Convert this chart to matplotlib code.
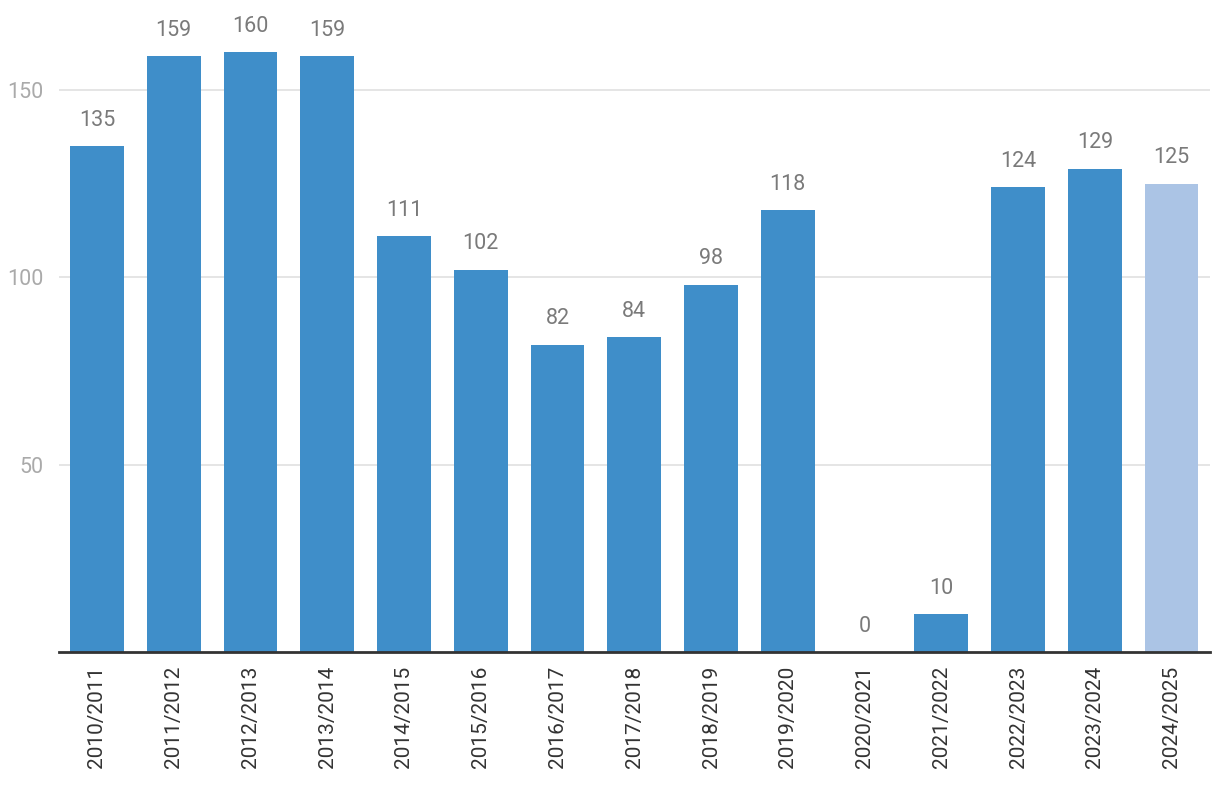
import matplotlib.pyplot as plt
import numpy as np

# data
seasons = ['2010/2011', '2011/2012', '2012/2013', '2013/2014', '2014/2015',
           '2015/2016', '2016/2017', '2017/2018', '2018/2019', '2019/2020',
           '2020/2021', '2021/2022', '2022/2023', '2023/2024', '2024/2025']
values = [135, 159, 160, 159, 111, 102, 82, 84, 98, 118, 0, 10, 124, 129, 125]
y_ticks = [50, 100, 150]

plt.rcParams['font.family'] = ['Roboto', 'DejaVu Sans']

BLUE = '#3f8ec9'
LIGHT = '#abc4e5'
colors = [BLUE] * (len(values) - 1) + [LIGHT]

fig = plt.figure(figsize=(12.2, 7.94), dpi=100)
ax = fig.add_axes([0.048, 0.179, 0.9438, 0.821])

x = np.arange(len(values))
bars = ax.bar(x, values, width=0.70, color=colors, zorder=3)

for xi, v in zip(x, values):
    ax.annotate(str(v), (xi, v), xytext=(0, 11), textcoords='offset points',
                ha='center', va='bottom', fontsize=15.5, color='#7a7a7a')

ax.set_xlim(-0.5, len(values) - 0.5)
ax.set_ylim(0, 174)
ax.set_yticks(y_ticks)
ax.set_xticks(x)
ax.set_xticklabels(seasons, rotation=90, fontsize=15, color='#333333')
ax.tick_params(axis='y', length=0, pad=11, labelsize=15.5, labelcolor='#aaaaaa')
ax.tick_params(axis='x', length=0, pad=10)

ax.grid(axis='y', color='#e3e3e3', linewidth=1.3, zorder=0)
for s in ['top', 'right', 'left']:
    ax.spines[s].set_visible(False)
ax.spines['bottom'].set_color('#333333')
ax.spines['bottom'].set_linewidth(2)
ax.spines['bottom'].set_zorder(4)

fig.savefig('out.png', dpi=100)
